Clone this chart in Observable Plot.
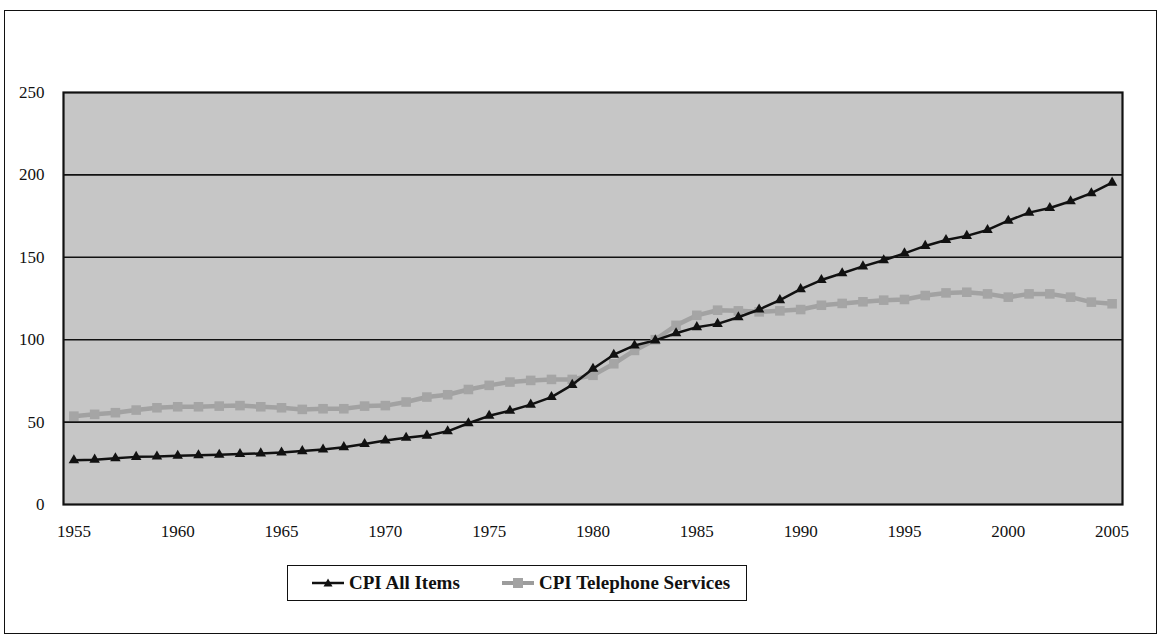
<!DOCTYPE html>
<html>
<head>
<meta charset="utf-8">
<script src="https://cdn.jsdelivr.net/npm/d3@7"></script>
<script src="https://cdn.jsdelivr.net/npm/@observablehq/plot@0.6"></script>
<style>
  html, body { margin: 0; padding: 0; background: #fff; }
  body { width: 1164px; height: 639px; position: relative; overflow: hidden; font-family: "Liberation Serif", "DejaVu Serif", serif; }
  #frame { position: absolute; left: 4px; top: 10px; width: 1151px; height: 622px; border: 1.5px solid #111; }
  #chart { position: absolute; left: 0; top: 0; }
  #legend { position: absolute; left: 287px; top: 565px; width: 458px; height: 34px; border: 1.5px solid #111; background: #fff; }
  #legend .item { position: absolute; top: 0; height: 34px; display: flex; align-items: center; font-family: "Liberation Serif", "DejaVu Serif", serif; font-weight: bold; font-size: 19px; color: #111; white-space: nowrap; }
  #legend svg { margin-right: 5px; }
  #chart svg text { font-family: "Liberation Serif", "DejaVu Serif", serif; }
</style>
</head>
<body>
<div id="frame"></div>
<div id="chart"></div>
<div id="legend">
  <div class="item" style="left:24px">
    <svg width="32" height="14"><line x1="0" y1="7" x2="32" y2="7" stroke="#111" stroke-width="2.5"/><path d="M16,2.5 L20.5,10.5 L11.5,10.5 Z" fill="#111"/></svg>CPI All Items
  </div>
  <div class="item" style="left:214px">
    <svg width="32" height="14"><line x1="0" y1="7" x2="32" y2="7" stroke="#9c9c9c" stroke-width="4"/><rect x="11" y="2" width="10" height="10" fill="#a3a3a3"/></svg>CPI Telephone Services
  </div>
</div>
<script>
const years = [1955,1956,1957,1958,1959,1960,1961,1962,1963,1964,
  1965,1966,1967,1968,1969,1970,1971,1972,1973,1974,
  1975,1976,1977,1978,1979,1980,1981,1982,1983,1984,
  1985,1986,1987,1988,1989,1990,1991,1992,1993,1994,
  1995,1996,1997,1998,1999,2000,2001,2002,2003,2004,2005];

const cpiAllItems = [26.8,27.2,28.1,28.9,29.1,29.6,29.9,30.2,30.6,31.0,
  31.5,32.4,33.4,34.8,36.7,38.8,40.5,41.8,44.4,49.3,
  53.8,56.9,60.6,65.2,72.6,82.4,90.9,96.5,99.6,103.9,
  107.6,109.6,113.6,118.3,124.0,130.7,136.2,140.3,144.5,148.2,
  152.4,156.9,160.5,163.0,166.6,172.2,177.1,179.9,184.0,188.9,195.3];

const cpiTelephone = [53.6,54.7,55.7,57.3,58.7,59.3,59.3,59.7,60.0,59.3,
  58.7,57.7,58.1,58.1,59.7,60.0,62.2,65.2,66.6,69.8,
  72.3,74.3,75.3,75.9,75.9,78.4,85.4,93.5,100.0,108.7,
  114.8,117.9,117.5,116.9,117.5,118.3,120.9,122.0,123.0,124.0,
  124.4,126.8,128.4,128.8,127.8,125.8,127.8,127.8,125.8,122.8,121.8];

const yTicks = [0, 50, 100, 150, 200, 250];
const xTicks = [1955, 1960, 1965, 1970, 1975, 1980, 1985, 1990, 1995, 2000, 2005];
const gridValues = [50, 100, 150, 200];

const allData = years.map((y, i) => ({year: y, value: cpiAllItems[i]}));
const telData = years.map((y, i) => ({year: y, value: cpiTelephone[i]}));

const chart = Plot.plot({
  width: 1164,
  height: 540,
  marginLeft: 63,
  marginRight: 42,
  marginTop: 92,
  marginBottom: 36,
  style: {fontFamily: "Liberation Serif, DejaVu Serif, serif", fontSize: "17px", color: "#111", background: "transparent"},
  x: {domain: [1954.5, 2005.5], ticks: xTicks, tickFormat: d => String(d), tickSize: 0, tickPadding: 20, label: null},
  y: {domain: [0, 250], ticks: yTicks, tickSize: 0, tickPadding: 19, label: null},
  marks: [
    Plot.frame({fill: "#c6c6c6", stroke: null}),
    Plot.ruleY(gridValues, {stroke: "#111", strokeWidth: 1.6}),
    Plot.line(telData, {x: "year", y: "value", stroke: "#a2a2a2", strokeWidth: 4.5}),
    Plot.dot(telData, {x: "year", y: "value", symbol: "square", r: 5.4, fill: "#a5a5a5", stroke: null}),
    Plot.line(allData, {x: "year", y: "value", stroke: "#111", strokeWidth: 2.5}),
    Plot.dot(allData, {x: "year", y: "value", symbol: "triangle", r: 3.9, fill: "#111", stroke: null}),
    Plot.frame({stroke: "#111", strokeWidth: 2.2})
  ]
});
document.getElementById("chart").appendChild(chart);
</script>
</body>
</html>
